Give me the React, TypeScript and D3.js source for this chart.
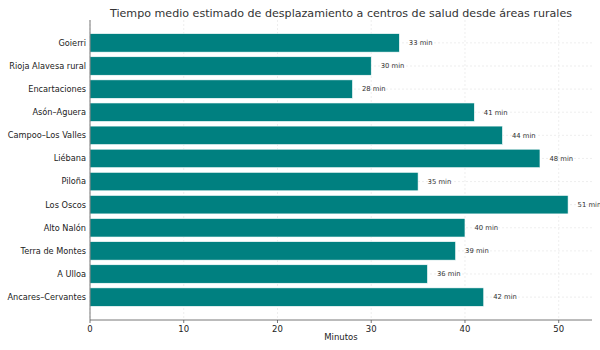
import React from "react";
import * as d3 from "d3";

const categories = ["Goierri", "Rioja Alavesa rural", "Encartaciones", "Asón–Aguera", "Campoo–Los Valles", "Liébana", "Piloña", "Los Oscos", "Alto Nalón", "Terra de Montes", "A Ulloa", "Ancares–Cervantes"];
const minutes = [33, 30, 28, 41, 44, 48, 35, 51, 40, 39, 36, 42];
const xTicks = [0, 10, 20, 30, 40, 50];

const W = 600, H = 350;
const M = { left: 90, right: 8, top: 20, bottom: 30 };
const FONT = "DejaVu Sans, sans-serif";

export default function App() {
  const x = d3.scaleLinear().domain([0, 51 * 1.05]).range([M.left, W - M.right]);
  const n = categories.length;
  const lo = -0.4, hi = n - 1 + 0.4, pad = (hi - lo) * 0.05;
  const y = d3.scaleLinear().domain([lo - pad, hi + pad]).range([M.top, H - M.bottom]);
  const unit = Math.abs(y(1) - y(0));
  const bh = unit * 0.8;
  const bottom = H - M.bottom;
  return (
    <svg width={W} height={H} style={{ position: "absolute", left: 0, top: 0, background: "#fff" }} fontFamily={FONT}>
      <rect x={0} y={0} width={W} height={H} fill="#fff" />
      {xTicks.map((t) => (
        <line key={"gx" + t} x1={x(t)} x2={x(t)} y1={M.top} y2={bottom} stroke="#e2e2e2" strokeWidth={0.6} strokeDasharray="2,2" />
      ))}
      {categories.map((c, i) => (
        <line key={"gy" + i} x1={M.left} x2={W - M.right} y1={y(i)} y2={y(i)} stroke="#e2e2e2" strokeWidth={0.6} strokeDasharray="2,2" />
      ))}
      {categories.map((c, i) => (
        <g key={c}>
          <rect x={x(0)} y={y(i) - bh / 2} width={x(minutes[i]) - x(0)} height={bh} fill="#008080" stroke="#ffffff" strokeWidth={0.6} />
          <text x={x(minutes[i]) + 9.5} y={y(i)} dy="0.35em" fontSize={6.8} fill="#333">{minutes[i]} min</text>
          <text x={M.left - 4} y={y(i)} dy="0.35em" fontSize={8.2} textAnchor="end" fill="#222">{c}</text>
        </g>
      ))}
      <line x1={M.left} x2={M.left} y1={M.top} y2={bottom} stroke="#555" strokeWidth={0.8} />
      <line x1={M.left} x2={W - M.right} y1={bottom} y2={bottom} stroke="#555" strokeWidth={0.8} />
      {xTicks.map((t) => (
        <g key={"t" + t}>
          <line x1={x(t)} x2={x(t)} y1={bottom} y2={bottom + 3} stroke="#555" strokeWidth={0.8} />
          <text x={x(t)} y={bottom + 12} textAnchor="middle" fontSize={8.5} fill="#222">{t}</text>
        </g>
      ))}
      <text x={(M.left + W - M.right) / 2} y={H - 10} textAnchor="middle" fontSize={8.5} fill="#222">Minutos</text>
      <text x={(M.left + W - M.right) / 2} y={17} textAnchor="middle" fontSize={11.1} fill="#333">Tiempo medio estimado de desplazamiento a centros de salud desde áreas rurales</text>
    </svg>
  );
}
